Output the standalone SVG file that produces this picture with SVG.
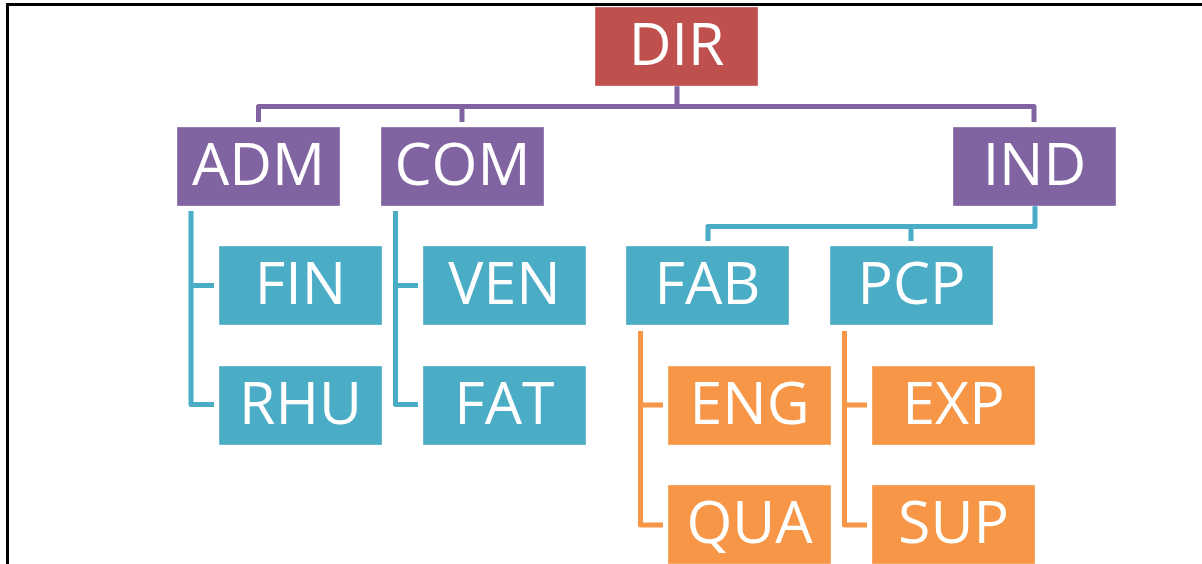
<svg xmlns="http://www.w3.org/2000/svg" width="1202" height="564" viewBox="0 0 1202 564">
<style>
.t{font-family:"Open Sans","Noto Sans","Liberation Sans",sans-serif;font-size:59px;fill:#fff;text-anchor:middle}
.red{fill:#C0504D}.pur{fill:#8064A2}.cya{fill:#4BACC6}.ora{fill:#F79646}
.box{stroke:#fff;stroke-opacity:0.35;stroke-width:1}
.c{fill:none;stroke-width:5;stroke-linejoin:round;stroke-linecap:butt}
.cp{stroke:#8064A2}.cc{stroke:#4BACC6}.co{stroke:#F79646}
</style>
<rect x="0" y="0" width="1202" height="564" fill="#fff"/>
<path d="M7.5 564 V4.5 H1202" fill="none" stroke="#000" stroke-width="3"/>
<g id="connectors">
<path class="c cp" d="M677 86 V106.5 M258.5 122 V106.5 H1034 V122 M462 106.5 V122"/>
<path class="c cc" d="M1035 206 V226.5 H708 V241 M911 226.5 V241"/>
<path class="c cc" d="M191 211 V404.5 H214 M191 285.5 H214"/>
<path class="c cc" d="M395.5 211 V404.5 H418 M395.5 285.5 H418"/>
<path class="c co" d="M640.5 331 V525 H663 M640.5 405 H663"/>
<path class="c co" d="M844.5 331 V525 H867 M844.5 405 H867"/>
</g>
<g id="DIR"><rect class="red box" x="595" y="7" width="163" height="79"/><text class="t" x="676.5" y="65">DIR</text></g>
<g id="ADM"><rect class="pur box" x="177" y="127" width="163" height="79"/><text class="t" x="258.5" y="185">ADM</text></g>
<g id="COM"><rect class="pur box" x="381" y="127" width="163" height="79"/><text class="t" x="462.5" y="185">COM</text></g>
<g id="IND"><rect class="pur box" x="953" y="127" width="163" height="79"/><text class="t" x="1034.5" y="185">IND</text></g>
<g id="FIN"><rect class="cya box" x="219" y="246" width="163" height="79"/><text class="t" x="300.5" y="304">FIN</text></g>
<g id="RHU"><rect class="cya box" x="219" y="366" width="163" height="79"/><text class="t" x="300.5" y="424">RHU</text></g>
<g id="VEN"><rect class="cya box" x="423" y="246" width="163" height="79"/><text class="t" x="504.5" y="304">VEN</text></g>
<g id="FAT"><rect class="cya box" x="423" y="366" width="163" height="79"/><text class="t" x="504.5" y="424">FAT</text></g>
<g id="FAB"><rect class="cya box" x="626" y="246" width="163" height="79"/><text class="t" x="707.5" y="304">FAB</text></g>
<g id="PCP"><rect class="cya box" x="830" y="246" width="163" height="79"/><text class="t" x="911.5" y="304">PCP</text></g>
<g id="ENG"><rect class="ora box" x="668" y="366" width="163" height="79"/><text class="t" x="749.5" y="424">ENG</text></g>
<g id="QUA"><rect class="ora box" x="668" y="485" width="163" height="79"/><text class="t" x="749.5" y="543">QUA</text></g>
<g id="EXP"><rect class="ora box" x="872" y="366" width="163" height="79"/><text class="t" x="953.5" y="424">EXP</text></g>
<g id="SUP"><rect class="ora box" x="872" y="485" width="163" height="79"/><text class="t" x="953.5" y="543">SUP</text></g>
</svg>
